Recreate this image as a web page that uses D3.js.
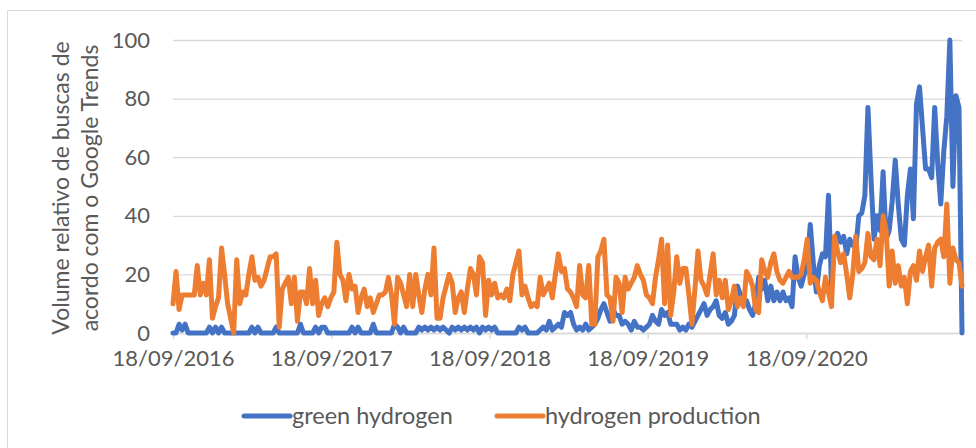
<!DOCTYPE html>
<html>
<head>
<meta charset="utf-8">
<script src="https://cdn.jsdelivr.net/npm/d3@7"></script>
<style>
  body { margin: 0; background: #fff; }
  svg text { font-family: Lato, 'Open Sans', sans-serif; fill: #595959; }
</style>
</head>
<body>
<svg id="chart" width="976" height="448"></svg>
<script>
// weekly google trends values, first week 18/09/2016
var startDate = '18/09/2016'
var tickLabels = ['18/09/2016', '18/09/2017', '18/09/2018', '18/09/2019', '18/09/2020']
var yTicks = [0, 20, 40, 60, 80, 100]
var seriesNames = ['green hydrogen', 'hydrogen production']

var greenHydrogen = [
  0, 0, 3, 1, 3, 0, 0, 0, 0, 0,
  0, 0, 2, 0, 2, 0, 2, 0, 0, 0,
  0, 0, 0, 0, 0, 0, 2, 0, 2, 0,
  0, 0, 0, 0, 2, 0, 0, 0, 0, 0,
  0, 0, 3, 0, 0, 0, 0, 2, 0, 2,
  2, 0, 0, 0, 0, 0, 0, 0, 0, 2,
  0, 2, 0, 0, 0, 0, 3, 0, 0, 0,
  0, 0, 0, 3, 2, 0, 2, 0, 0, 0,
  0, 2, 1, 2, 1, 2, 1, 2, 1, 2,
  1, 0, 2, 1, 2, 1, 2, 1, 2, 1,
  2, 0, 2, 1, 2, 1, 2, 0, 0, 0,
  0, 0, 0, 0, 2, 1, 2, 0, 0, 0,
  0, 1, 2, 1, 4, 1, 2, 3, 2, 7,
  6, 7, 3, 1, 2, 1, 3, 1, 2, 3,
  5, 8, 10, 7, 4, 8, 6, 6, 3, 4,
  3, 1, 4, 2, 2, 1, 2, 3, 6, 4,
  3, 8, 6, 7, 3, 3, 3, 1, 2, 1,
  3, 2, 4, 6, 8, 10, 6, 8, 9, 11,
  6, 5, 7, 3, 4, 6, 16, 13, 10, 11,
  8, 6, 10, 19, 15, 18, 11, 16, 11, 14,
  11, 14, 11, 12, 9, 26, 19, 16, 20, 24,
  37, 24, 14, 23, 27, 26, 47, 16, 31, 34,
  31, 33, 27, 32, 30, 29, 40, 41, 47, 77,
  53, 32, 40, 35, 55, 32, 35, 45, 59, 44,
  32, 30, 47, 56, 39, 78, 84, 70, 56, 56,
  53, 77, 58, 44, 62, 74, 100, 50, 81, 77, 0
]

var hydrogenProduction = [
  10, 21, 8, 13, 13, 13, 13, 13, 23, 13,
  17, 13, 25, 5, 9, 12, 29, 20, 10, 5,
  0, 25, 10, 14, 13, 20, 26, 18, 19, 16,
  18, 22, 26, 26, 27, 2, 15, 17, 19, 10,
  19, 4, 14, 14, 10, 22, 10, 18, 6, 10,
  12, 9, 12, 14, 31, 20, 18, 11, 20, 15,
  16, 7, 12, 15, 9, 12, 7, 10, 13, 13,
  14, 19, 13, 3, 19, 17, 13, 9, 20, 9,
  20, 13, 7, 15, 20, 13, 29, 5, 5, 12,
  16, 20, 17, 7, 12, 14, 7, 15, 22, 20,
  13, 26, 24, 6, 18, 13, 17, 12, 13, 12,
  15, 11, 20, 24, 28, 13, 16, 12, 9, 10,
  9, 19, 13, 15, 17, 12, 20, 27, 21, 22,
  15, 14, 12, 9, 23, 13, 12, 23, 3, 3,
  26, 28, 32, 13, 12, 4, 19, 17, 7, 19,
  15, 17, 19, 23, 20, 18, 13, 12, 10, 19,
  25, 32, 10, 30, 6, 14, 26, 17, 22, 22,
  13, 3, 15, 28, 18, 16, 13, 20, 27, 13,
  18, 12, 18, 8, 11, 16, 9, 12, 9, 21,
  19, 16, 8, 7, 25, 21, 19, 24, 27, 21,
  18, 17, 19, 21, 19, 19, 19, 20, 25, 32,
  17, 19, 18, 14, 11, 19, 14, 9, 33, 28,
  24, 27, 20, 12, 20, 33, 21, 22, 24, 34,
  26, 25, 32, 23, 40, 35, 16, 28, 17, 23,
  16, 19, 10, 21, 23, 18, 28, 21, 26, 30,
  16, 29, 31, 32, 26, 44, 17, 29, 25, 24, 16
]

var colors = ['#4472c4', '#ed7d31']

var parseDate = d3.utcParse('%d/%m/%Y')
var formatDate = d3.utcFormat('%d/%m/%Y')
var first = parseDate(startDate)
var weeks = greenHydrogen.map(function (d, i) { return d3.utcDay.offset(first, i * 7) })

// plot area
var margin = {top: 40, right: 14, bottom: 115, left: 173}
var width = 976 - margin.left - margin.right
var height = 448 - margin.top - margin.bottom
var fontSize = '22px'

var svg = d3.select('#chart')

// outer frame
svg.append('rect')
    .attr('x', 7.5)
    .attr('y', 10.5)
    .attr('width', 1000)
    .attr('height', 500)
    .attr('fill', '#fff')
    .attr('stroke', '#d9d9d9')

var g = svg.append('g')
    .attr('transform', 'translate(' + margin.left + ',' + margin.top + ')')

var x = d3.scaleUtc()
    .domain([weeks[0], weeks[weeks.length - 1]])
    .range([0, width])

var y = d3.scaleLinear()
    .domain([0, 100])
    .range([height, 0])

// gridlines
g.append('g')
    .attr('class', 'grid')
    .call(d3.axisLeft(y).tickValues(yTicks).tickSize(-width).tickFormat(''))
    .call(function (s) {
      s.select('.domain').remove()
      s.selectAll('line').attr('stroke', '#d9d9d9').attr('stroke-width', 1.3)
    })

// y labels
g.append('g')
    .call(d3.axisLeft(y).tickValues(yTicks).tickSize(0).tickPadding(23))
    .call(function (s) {
      s.select('.domain').remove()
      s.selectAll('text')
          .attr('fill', '#595959')
          .style('font-size', fontSize)
          .style('font-family', 'Lato, sans-serif')
    })

// x axis
g.append('g')
    .attr('transform', 'translate(0,' + height + ')')
    .call(d3.axisBottom(x)
      .tickValues(tickLabels.map(parseDate))
      .tickFormat(formatDate)
      .tickSize(6)
      .tickSizeOuter(0)
      .tickPadding(11))
    .call(function (s) {
      s.select('.domain').attr('stroke', '#d9d9d9').attr('stroke-width', 1.3)
      s.selectAll('line').attr('stroke', '#d9d9d9').attr('stroke-width', 1.3)
      s.selectAll('text')
          .attr('fill', '#595959')
          .style('font-size', fontSize)
          .style('font-family', 'Lato, sans-serif')
    })

// lines
var line = d3.line()
    .x(function (d, i) { return x(weeks[i]) })
    .y(function (d) { return y(d) })

;[greenHydrogen, hydrogenProduction].forEach(function (series, k) {
  g.append('path')
      .datum(series)
      .attr('fill', 'none')
      .attr('stroke', colors[k])
      .attr('stroke-width', 5)
      .attr('stroke-linejoin', 'round')
      .attr('stroke-linecap', 'round')
      .attr('d', line)
})

// y axis title
var titleLines = ['Volume relativo de buscas de', 'acordo com o Google Trends']
titleLines.forEach(function (t, i) {
  svg.append('text')
      .attr('transform', 'translate(' + (69 + i * 29) + ',188) rotate(-90)')
      .attr('text-anchor', 'middle')
      .style('font-size', '23px')
      .text(t)
})

// legend
var legendX = [244, 497]
seriesNames.forEach(function (name, k) {
  var lg = svg.append('g').attr('transform', 'translate(' + legendX[k] + ',416)')
  lg.append('line')
      .attr('x1', 0)
      .attr('x2', 46)
      .attr('stroke', colors[k])
      .attr('stroke-width', 5)
      .attr('stroke-linecap', 'round')
  lg.append('text')
      .attr('x', 48)
      .attr('dy', '0.33em')
      .style('font-size', '23.5px')
      .text(name)
})
</script>
</body>
</html>
